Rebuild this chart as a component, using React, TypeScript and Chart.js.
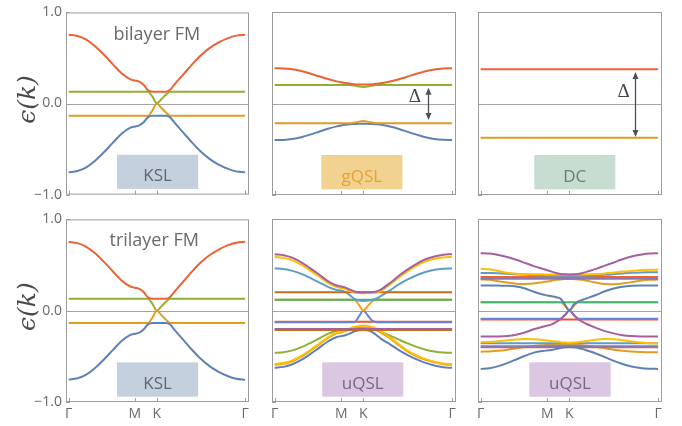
import React, { useEffect, useRef } from 'react';
import { Chart, registerables } from 'chart.js';

Chart.register(...registerables);

// ---------------- axes ----------------
const K_PATH = [0, 0.05, 0.1, 0.15, 0.2, 0.25, 0.3, 0.35, 0.375, 0.4, 0.425, 0.45, 0.475, 0.5, 0.525, 0.55, 0.575, 0.6, 0.65, 0.7, 0.75, 0.8, 0.85, 0.9, 0.95, 1];
const EDGE_X = [0, 1];
const X_TICKS = [0, 0.375, 0.5, 1];
const X_TICK_LABELS = ['Γ', 'M', 'K', 'Γ'];
const Y_TICKS = [-1, 0, 1];
const Y_TICK_LABELS = ['−1.0', '0.0', '1.0'];
const Y_TITLE = 'ϵ(k)';
const X_MIN = -0.015;
const X_MAX = 1.022;

// ---------------- bilayer / trilayer FM, KSL ----------------
const KSL_RED = [0.755, 0.74, 0.7, 0.628, 0.535, 0.432, 0.332, 0.265, 0.252, 0.24, 0.205, 0.145, 0.13, 0.13, 0.13, 0.13, 0.15, 0.21, 0.32, 0.43, 0.53, 0.61, 0.67, 0.715, 0.745, 0.755];
const KSL_GREEN = [0.13, 0.13, 0.13, 0.13, 0.13, 0.13, 0.13, 0.13, 0.13, 0.13, 0.13, 0.13, 0.075, 0, 0.047, 0.095, 0.13, 0.13, 0.13, 0.13, 0.13, 0.13, 0.13, 0.13, 0.13, 0.13];
const KSL_ORANGE = [-0.135, -0.135, -0.135, -0.135, -0.135, -0.135, -0.135, -0.135, -0.135, -0.135, -0.135, -0.135, -0.075, 0, -0.047, -0.095, -0.135, -0.135, -0.135, -0.135, -0.135, -0.135, -0.135, -0.135, -0.135, -0.135];
const KSL_BLUE = [-0.755, -0.74, -0.7, -0.628, -0.535, -0.432, -0.332, -0.265, -0.252, -0.24, -0.205, -0.15, -0.135, -0.135, -0.135, -0.135, -0.152, -0.21, -0.32, -0.43, -0.53, -0.61, -0.67, -0.715, -0.745, -0.755];

// ---------------- gQSL ----------------
const GQ_RED = [0.385, 0.383, 0.374, 0.355, 0.328, 0.297, 0.267, 0.242, 0.232, 0.223, 0.216, 0.211, 0.208, 0.207, 0.208, 0.211, 0.215, 0.221, 0.24, 0.265, 0.295, 0.325, 0.352, 0.372, 0.382, 0.385];
const GQ_GREEN = [0.202, 0.202, 0.202, 0.202, 0.202, 0.202, 0.202, 0.202, 0.202, 0.202, 0.202, 0.196, 0.186, 0.181, 0.186, 0.196, 0.202, 0.202, 0.202, 0.202, 0.202, 0.202, 0.202, 0.202, 0.202, 0.202];
const GQ_ORANGE = [-0.217, -0.217, -0.217, -0.217, -0.217, -0.217, -0.217, -0.217, -0.217, -0.217, -0.217, -0.21, -0.198, -0.19, -0.198, -0.21, -0.217, -0.217, -0.217, -0.217, -0.217, -0.217, -0.217, -0.217, -0.217, -0.217];
const GQ_BLUE = [-0.4, -0.398, -0.388, -0.368, -0.34, -0.308, -0.276, -0.25, -0.24, -0.232, -0.226, -0.223, -0.222, -0.222, -0.222, -0.223, -0.227, -0.233, -0.252, -0.278, -0.31, -0.34, -0.368, -0.387, -0.397, -0.4];

// ---------------- DC ----------------
const DC_RED = [0.373, 0.373];
const DC_ORANGE = [-0.373, -0.373];

// ---------------- uQSL (middle) ----------------
const UQA_BLUE_LO = [-0.626, -0.616, -0.588, -0.54, -0.477, -0.408, -0.339, -0.29, -0.28, -0.27, -0.25, -0.228, -0.215, -0.21, -0.217, -0.235, -0.27, -0.31, -0.37, -0.432, -0.487, -0.534, -0.573, -0.601, -0.62, -0.626];
const UQA_GREEN_LO = [-0.463, -0.456, -0.436, -0.401, -0.356, -0.306, -0.256, -0.221, -0.214, -0.21, -0.208, -0.207, -0.207, -0.207, -0.207, -0.208, -0.215, -0.235, -0.275, -0.318, -0.36, -0.398, -0.428, -0.448, -0.46, -0.463];
const UQA_ORANGE_LO = [-0.594, -0.583, -0.555, -0.505, -0.442, -0.371, -0.3, -0.25, -0.24, -0.225, -0.205, -0.19, -0.184, -0.183, -0.185, -0.195, -0.215, -0.245, -0.305, -0.38, -0.45, -0.5, -0.54, -0.567, -0.588, -0.594];
const UQA_GOLD_LO = [-0.585, -0.574, -0.546, -0.497, -0.434, -0.363, -0.293, -0.244, -0.233, -0.215, -0.195, -0.178, -0.168, -0.165, -0.168, -0.18, -0.2, -0.232, -0.295, -0.37, -0.44, -0.492, -0.532, -0.56, -0.58, -0.585];
const UQA_BROWN_LO = [-0.213, -0.213];
const UQA_MAGENTA_LO = [-0.203, -0.203];
const UQA_RED_FLAT = [-0.124, -0.124];
const UQA_BLUE_FLAT = [-0.128, -0.128, -0.128, -0.128, -0.128, -0.128, -0.128, -0.128, -0.128, -0.128, -0.128, -0.128, -0.065, 0, -0.055, -0.11, -0.128, -0.128, -0.128, -0.128, -0.128, -0.128, -0.128, -0.128, -0.128, -0.128];
const UQA_ORANGE_UP = [0.117, 0.117, 0.117, 0.117, 0.117, 0.117, 0.117, 0.117, 0.117, 0.117, 0.117, 0.117, 0.06, 0, 0.05, 0.1, 0.117, 0.117, 0.117, 0.117, 0.117, 0.117, 0.117, 0.117, 0.117, 0.117];
const UQA_GREEN_UP = [0.117, 0.117];
const UQA_LBLUE_UP = [0.46, 0.453, 0.433, 0.4, 0.356, 0.308, 0.259, 0.225, 0.218, 0.2, 0.165, 0.128, 0.108, 0.105, 0.108, 0.115, 0.132, 0.16, 0.22, 0.285, 0.34, 0.385, 0.42, 0.445, 0.457, 0.46];
const UQA_BROWN_UP = [0.2, 0.2];
const UQA_GOLD_UP = [0.585, 0.575, 0.548, 0.5, 0.439, 0.371, 0.303, 0.255, 0.245, 0.235, 0.215, 0.198, 0.19, 0.188, 0.19, 0.192, 0.197, 0.215, 0.285, 0.36, 0.43, 0.49, 0.537, 0.565, 0.58, 0.585];
const UQA_MAGENTA_UP = [0.615, 0.604, 0.576, 0.527, 0.463, 0.393, 0.322, 0.273, 0.262, 0.25, 0.228, 0.208, 0.2, 0.198, 0.2, 0.202, 0.208, 0.23, 0.3, 0.38, 0.45, 0.51, 0.56, 0.59, 0.61, 0.615];

// ---------------- uQSL (right) ----------------
const UQB_BLUE_LO = [-0.638, -0.63, -0.608, -0.575, -0.535, -0.495, -0.46, -0.442, -0.437, -0.432, -0.42, -0.41, -0.403, -0.4, -0.403, -0.41, -0.422, -0.437, -0.47, -0.51, -0.55, -0.585, -0.612, -0.628, -0.636, -0.638];
const UQB_ORANGE_LO = [-0.45, -0.447, -0.44, -0.428, -0.413, -0.398, -0.387, -0.38, -0.378, -0.377, -0.377, -0.377, -0.377, -0.377, -0.377, -0.378, -0.38, -0.386, -0.398, -0.413, -0.428, -0.44, -0.449, -0.454, -0.456, -0.456];
const UQB_RED_LO = [-0.402, -0.402];
const UQB_LAV_LO = [-0.39, -0.39];
const UQB_LBLUE_LO = [-0.358, -0.358];
const UQB_GOLD_LO = [-0.346, -0.343, -0.336, -0.326, -0.317, -0.312, -0.314, -0.322, -0.327, -0.333, -0.34, -0.346, -0.35, -0.352, -0.35, -0.346, -0.34, -0.333, -0.32, -0.312, -0.315, -0.325, -0.338, -0.35, -0.357, -0.36];
const UQB_MAGENTA_LO = [-0.284, -0.284, -0.283, -0.278, -0.265, -0.24, -0.205, -0.178, -0.165, -0.152, -0.125, -0.095, -0.05, 0, -0.05, -0.095, -0.125, -0.15, -0.19, -0.225, -0.25, -0.27, -0.28, -0.284, -0.284, -0.284];
const UQB_RED_FLAT = [-0.097, -0.097];
const UQB_BLUE_FLAT = [-0.091, -0.091, -0.091, -0.091, -0.091, -0.091, -0.091, -0.091, -0.091, -0.091, -0.091, -0.091, -0.05, 0, -0.05, -0.091, -0.091, -0.091, -0.091, -0.091, -0.091, -0.091, -0.091, -0.091, -0.091, -0.091];
const UQB_ORANGE_UP = [0.091, 0.091, 0.091, 0.091, 0.091, 0.091, 0.091, 0.091, 0.091, 0.091, 0.091, 0.091, 0.05, 0, 0.05, 0.091, 0.091, 0.091, 0.091, 0.091, 0.091, 0.091, 0.091, 0.091, 0.091, 0.091];
const UQB_GREEN_UP = [0.091, 0.091];
const UQB_STEEL_UP = [0.273, 0.273, 0.272, 0.27, 0.262, 0.24, 0.205, 0.175, 0.165, 0.155, 0.145, 0.13, 0.065, 0, 0.065, 0.1, 0.118, 0.135, 0.17, 0.21, 0.24, 0.26, 0.27, 0.273, 0.273, 0.273];
const UQB_ORANGE2_UP = [0.34, 0.335, 0.32, 0.305, 0.293, 0.29, 0.295, 0.31, 0.318, 0.325, 0.335, 0.34, 0.343, 0.344, 0.343, 0.34, 0.335, 0.325, 0.305, 0.29, 0.288, 0.295, 0.31, 0.325, 0.335, 0.338];
const UQB_LAV_UP = [0.347, 0.347];
const UQB_RED_UP = [0.366, 0.366];
const UQB_LBLUE_UP = [0.41, 0.409, 0.406, 0.401, 0.395, 0.39, 0.386, 0.383, 0.382, 0.381, 0.38, 0.38, 0.38, 0.38, 0.38, 0.38, 0.38, 0.381, 0.385, 0.39, 0.397, 0.405, 0.412, 0.416, 0.418, 0.419];
const UQB_GOLD_UP = [0.455, 0.45, 0.432, 0.412, 0.402, 0.398, 0.396, 0.395, 0.394, 0.394, 0.393, 0.393, 0.393, 0.393, 0.393, 0.393, 0.394, 0.395, 0.398, 0.405, 0.415, 0.425, 0.433, 0.44, 0.444, 0.446];
const UQB_MAGENTA_UP = [0.627, 0.622, 0.607, 0.585, 0.555, 0.52, 0.485, 0.455, 0.44, 0.425, 0.41, 0.4, 0.395, 0.393, 0.395, 0.4, 0.41, 0.425, 0.455, 0.49, 0.525, 0.56, 0.59, 0.61, 0.622, 0.627];

// ---------------- styles ----------------
const COL = {
  blue: '#5E81B5', orange: '#E19C24', green: '#8FB032', red: '#EB6235', lavender: '#8778B3',
  brown: '#C56E1A', lightBlue: '#5D9EC7', gold: '#FFBF00', magenta: '#A5609D', red2: '#E95536',
  periwinkle: '#6685D9', orange2: '#F89F13', green2: '#47B66D',
};
const FRAME_COLOR = '#9c9c9c';
const ZERO_COLOR = '#a5a5a5';
const TEXT_COLOR = '#6a6a6a';
const SANS = '"Open Sans", "DejaVu Sans", sans-serif';

type Band = { ys: number[]; color: string; xs?: number[] };
type Spec = {
  key: string; col: number; row: number; bands: Band[];
  title?: { text: string; x: number; y: number };
  box: { x0: number; x1: number; y0: number; y1: number; fill: string; text: string; color: string };
  arrow?: { x: number; yTop: number; yBottom: number; lx: number; ly: number };
};

const ROWS = [
  { top: 0, height: 207, padTop: 12, padBottom: 12, xLabels: false },
  { top: 207, height: 219, padTop: 12, padBottom: 0, xLabels: true },
];
const COLS = [
  { left: 0, width: 259, padLeft: 0, yAxis: true },
  { left: 260, width: 206, padLeft: 12, yAxis: false },
  { left: 466, width: 206, padLeft: 12, yAxis: false },
];

const KSL_BANDS: Band[] = [
  { ys: KSL_GREEN, color: COL.green },
  { ys: KSL_ORANGE, color: COL.orange },
  { ys: KSL_BLUE, color: COL.blue },
  { ys: KSL_RED, color: COL.red },
];

const SPECS: Spec[] = [
  {
    key: 'p1', col: 0, row: 0, bands: KSL_BANDS,
    title: { text: 'bilayer FM', x: 0.5, y: 0.7 },
    box: { x0: 0.274, x1: 0.734, y0: -0.563, y1: -0.938, fill: '#c5d0df', text: 'KSL', color: '#5f6773' },
  },
  {
    key: 'p2', col: 1, row: 0,
    bands: [
      { ys: GQ_GREEN, color: COL.green },
      { ys: GQ_BLUE, color: COL.blue },
      { ys: GQ_ORANGE, color: COL.orange },
      { ys: GQ_RED, color: COL.red },
    ],
    box: { x0: 0.263, x1: 0.72, y0: -0.563, y1: -0.938, fill: '#f1d290', text: 'gQSL', color: '#e9a132' },
    arrow: { x: 0.867, yTop: 0.173, yBottom: -0.18, lx: 0.79, ly: 0.02 },
  },
  {
    key: 'p3', col: 2, row: 0,
    bands: [
      { ys: DC_ORANGE, color: COL.orange, xs: EDGE_X },
      { ys: DC_RED, color: COL.red, xs: EDGE_X },
    ],
    box: { x0: 0.302, x1: 0.759, y0: -0.563, y1: -0.938, fill: '#c7ddd0', text: 'DC', color: '#6f7a74' },
    arrow: { x: 0.869, yTop: 0.344, yBottom: -0.366, lx: 0.805, ly: 0.074 },
  },
  {
    key: 'p4', col: 0, row: 1, bands: KSL_BANDS,
    title: { text: 'trilayer FM', x: 0.485, y: 0.705 },
    box: { x0: 0.274, x1: 0.734, y0: -0.566, y1: -0.942, fill: '#c5d0df', text: 'KSL', color: '#5f6773' },
  },
  {
    key: 'p5', col: 1, row: 1,
    bands: [
      { ys: UQA_BLUE_LO, color: COL.blue },
      { ys: UQA_GREEN_LO, color: COL.green },
      { ys: UQA_ORANGE_LO, color: COL.orange },
      { ys: UQA_GOLD_LO, color: COL.gold },
      { ys: UQA_BROWN_LO, color: COL.brown, xs: EDGE_X },
      { ys: UQA_MAGENTA_LO, color: COL.magenta, xs: EDGE_X },
      { ys: UQA_RED_FLAT, color: COL.red2, xs: EDGE_X },
      { ys: UQA_BLUE_FLAT, color: COL.periwinkle },
      { ys: UQA_ORANGE_UP, color: COL.orange2 },
      { ys: UQA_GREEN_UP, color: COL.green2, xs: EDGE_X },
      { ys: UQA_LBLUE_UP, color: COL.lightBlue },
      { ys: UQA_BROWN_UP, color: COL.brown, xs: EDGE_X },
      { ys: UQA_GOLD_UP, color: COL.gold },
      { ys: UQA_MAGENTA_UP, color: COL.magenta },
    ],
    box: { x0: 0.268, x1: 0.725, y0: -0.566, y1: -0.942, fill: '#dcc7e3', text: 'uQSL', color: '#7a6682' },
  },
  {
    key: 'p6', col: 2, row: 1,
    bands: [
      { ys: UQB_ORANGE_LO, color: COL.orange },
      { ys: UQB_RED_LO, color: COL.red, xs: EDGE_X },
      { ys: UQB_LAV_LO, color: COL.lavender, xs: EDGE_X },
      { ys: UQB_LBLUE_LO, color: COL.lightBlue, xs: EDGE_X },
      { ys: UQB_GOLD_LO, color: COL.gold },
      { ys: UQB_BLUE_LO, color: COL.blue },
      { ys: UQB_RED_FLAT, color: COL.red2, xs: EDGE_X },
      { ys: UQB_BLUE_FLAT, color: COL.periwinkle },
      { ys: UQB_MAGENTA_LO, color: COL.magenta },
      { ys: UQB_ORANGE_UP, color: COL.orange2 },
      { ys: UQB_GREEN_UP, color: COL.green2, xs: EDGE_X },
      { ys: UQB_STEEL_UP, color: COL.blue },
      { ys: UQB_ORANGE2_UP, color: COL.orange },
      { ys: UQB_LAV_UP, color: COL.lavender, xs: EDGE_X },
      { ys: UQB_RED_UP, color: COL.red, xs: EDGE_X },
      { ys: UQB_LBLUE_UP, color: COL.lightBlue },
      { ys: UQB_GOLD_UP, color: COL.gold },
      { ys: UQB_MAGENTA_UP, color: COL.magenta },
    ],
    box: { x0: 0.274, x1: 0.733, y0: -0.566, y1: -0.942, fill: '#dcc7e3', text: 'uQSL', color: '#7a6682' },
  },
];

function overlayPlugin(spec: Spec) {
  return {
    id: 'overlay_' + spec.key,
    beforeDatasetsDraw(chart: any) {
      const { ctx, chartArea: a } = chart;
      const y0 = Math.round(chart.scales.y.getPixelForValue(0)) + 0.5;
      ctx.save();
      ctx.strokeStyle = ZERO_COLOR;
      ctx.lineWidth = 1;
      ctx.beginPath();
      ctx.moveTo(a.left, y0);
      ctx.lineTo(a.right, y0);
      ctx.stroke();
      ctx.restore();
    },
    afterDatasetsDraw(chart: any) {
      const { ctx, chartArea: a } = chart;
      const sx = (v: number) => chart.scales.x.getPixelForValue(v);
      const sy = (v: number) => chart.scales.y.getPixelForValue(v);
      ctx.save();
      // label box
      const b = spec.box;
      const bx0 = sx(b.x0), bx1 = sx(b.x1), by0 = sy(b.y0), by1 = sy(b.y1);
      ctx.fillStyle = b.fill;
      ctx.fillRect(bx0, by0, bx1 - bx0, by1 - by0);
      ctx.fillStyle = b.color;
      ctx.font = '17px ' + SANS;
      ctx.textAlign = 'center';
      ctx.textBaseline = 'alphabetic';
      ctx.fillText(b.text, (bx0 + bx1) / 2, (by0 + by1) / 2 + 9.5);
      // title
      if (spec.title) {
        ctx.fillStyle = TEXT_COLOR;
        ctx.font = '18px ' + SANS;
        ctx.fillText(spec.title.text, sx(spec.title.x), sy(spec.title.y));
      }
      // gap arrow
      if (spec.arrow) {
        const ar = spec.arrow;
        const x = Math.round(sx(ar.x)) + 0.5;
        const yt = sy(ar.yTop), yb = sy(ar.yBottom);
        const head = 7, hw = 3;
        ctx.strokeStyle = '#4b5058';
        ctx.fillStyle = '#4b5058';
        ctx.lineWidth = 1.3;
        ctx.beginPath();
        ctx.moveTo(x, yt + head - 1);
        ctx.lineTo(x, yb - head + 1);
        ctx.stroke();
        ctx.beginPath();
        ctx.moveTo(x, yt); ctx.lineTo(x - hw, yt + head); ctx.lineTo(x + hw, yt + head); ctx.closePath(); ctx.fill();
        ctx.beginPath();
        ctx.moveTo(x, yb); ctx.lineTo(x - hw, yb - head); ctx.lineTo(x + hw, yb - head); ctx.closePath(); ctx.fill();
        ctx.fillStyle = '#41464d';
        ctx.font = '19px "Liberation Serif", "DejaVu Serif", serif';
        ctx.textAlign = 'center';
        ctx.fillText('Δ', sx(ar.lx), sy(ar.ly));
      }
      // frame
      ctx.strokeStyle = FRAME_COLOR;
      ctx.lineWidth = 1;
      ctx.strokeRect(a.left + 0.5, a.top + 0.5, a.right - a.left - 1, a.bottom - a.top - 1);
      // inside tick marks
      ctx.beginPath();
      X_TICKS.forEach((v) => {
        const x = Math.round(sx(v)) + 0.5;
        ctx.moveTo(x, a.bottom);
        ctx.lineTo(x, a.bottom - 4);
      });
      Y_TICKS.forEach((v) => {
        const y = Math.round(sy(v)) + 0.5;
        ctx.moveTo(a.left, y);
        ctx.lineTo(a.left + 4, y);
      });
      ctx.stroke();
      // y-axis title
      if (COLS[spec.col].yAxis) {
        ctx.save();
        ctx.translate(28, (a.top + a.bottom) / 2 - 4);
        ctx.rotate(-Math.PI / 2);
        ctx.fillStyle = '#4a4a4a';
        ctx.font = 'italic 25px "DejaVu Serif", "Liberation Serif", serif';
        ctx.textAlign = 'center';
        ctx.textBaseline = 'middle';
        ctx.fillText(Y_TITLE, 0, 0);
        ctx.restore();
      }
      ctx.restore();
    },
  };
}

function buildConfig(spec: Spec): any {
  const row = ROWS[spec.row];
  const col = COLS[spec.col];
  const datasets = spec.bands.slice().reverse().map((b) => ({
    data: (b.xs || K_PATH).map((x, i) => ({ x, y: b.ys[i] })),
    borderColor: b.color,
    backgroundColor: b.color,
    borderWidth: 2,
    pointRadius: 0,
    fill: false,
    cubicInterpolationMode: 'monotone',
  }));
  return {
    type: 'line',
    data: { datasets },
    options: {
      animation: false,
      responsive: false,
      maintainAspectRatio: false,
      devicePixelRatio: 1,
      events: [],
      layout: { padding: { left: col.padLeft, right: 10, top: row.padTop, bottom: row.padBottom } },
      plugins: { legend: { display: false }, tooltip: { enabled: false }, title: { display: false } },
      scales: {
        x: {
          type: 'linear',
          min: X_MIN,
          max: X_MAX,
          display: row.xLabels,
          grid: { display: false, drawTicks: false },
          border: { display: false },
          afterBuildTicks: (s: any) => { s.ticks = X_TICKS.map((v) => ({ value: v })); },
          afterFit: (s: any) => { s.height = row.xLabels ? 24 : 0; },
          ticks: {
            autoSkip: false,
            maxRotation: 0,
            padding: 4,
            color: TEXT_COLOR,
            font: { family: SANS, size: 14 },
            callback: (_v: any, i: number) => X_TICK_LABELS[i],
          },
        },
        y: {
          type: 'linear',
          min: -1,
          max: 1,
          display: col.yAxis,
          grid: { display: false, drawTicks: false },
          border: { display: false },
          afterBuildTicks: (s: any) => { s.ticks = Y_TICKS.map((v) => ({ value: v })); },
          afterFit: (s: any) => { s.width = col.yAxis ? 66 : 0; },
          ticks: {
            autoSkip: false,
            padding: 4,
            color: TEXT_COLOR,
            font: { family: SANS, size: 14 },
            callback: (_v: any, i: number) => Y_TICK_LABELS[i],
          },
        },
      },
    },
    plugins: [overlayPlugin(spec)],
  };
}

function Panel({ spec }: { spec: Spec }) {
  const ref = useRef<HTMLCanvasElement>(null);
  const row = ROWS[spec.row];
  const col = COLS[spec.col];
  useEffect(() => {
    if (!ref.current) return;
    const chart = new Chart(ref.current, buildConfig(spec));
    return () => chart.destroy();
  }, [spec]);
  return (
    <canvas
      ref={ref}
      width={col.width}
      height={row.height}
      style={{ position: 'absolute', left: col.left, top: row.top, width: col.width, height: row.height }}
    />
  );
}

export default function App() {
  return (
    <div style={{ position: 'absolute', left: 0, top: 0, width: 682, height: 426, background: '#ffffff', overflow: 'hidden' }}>
      {SPECS.map((s) => (
        <Panel key={s.key} spec={s} />
      ))}
    </div>
  );
}
